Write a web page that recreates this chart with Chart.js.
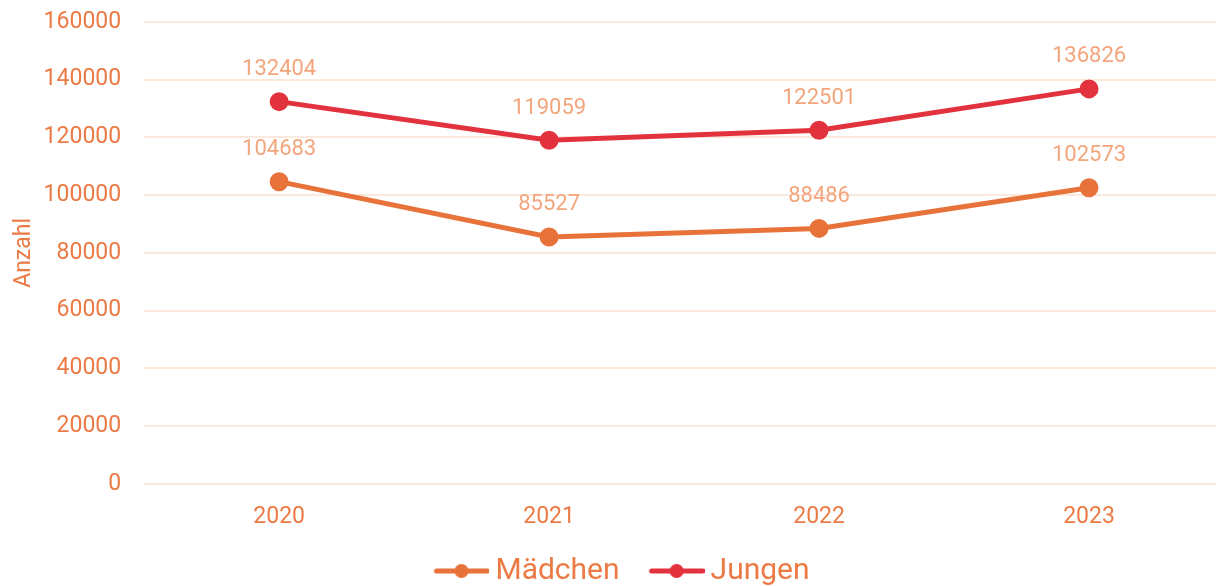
<!DOCTYPE html>
<html>
<head>
<meta charset="utf-8">
<script src="https://cdn.jsdelivr.net/npm/chart.js@4"></script>
<style>
  html, body { margin: 0; padding: 0; background: #fff; overflow: hidden; }
  #wrap { width: 1224px; height: 586px; }
</style>
</head>
<body>
<div id="wrap"><canvas id="lineChart" width="1224" height="586"></canvas></div>
<script>
// Daten
const jahre = ['2020', '2021', '2022', '2023'];
const maedchen = [104683, 85527, 88486, 102573];
const jungen = [132404, 119059, 122501, 136826];

const orange = '#E8733A';
const rot = '#E2323D';
const textFarbe = '#EC7A45';
const labelFarbe = '#F3A57C';
const gitter = '#FCE9DE';

// Legendensymbol: Linie mit Punkt (links etwas Luft als Abstand zwischen den Einträgen)
function legendIcon(color) {
    const c = document.createElement('canvas');
    c.width = 80; c.height = 16;
    const g = c.getContext('2d');
    g.strokeStyle = color;
    g.lineWidth = 5;
    g.lineCap = 'round';
    g.beginPath(); g.moveTo(27, 8); g.lineTo(78, 8); g.stroke();
    g.fillStyle = color;
    g.beginPath(); g.arc(52, 8, 7, 0, Math.PI * 2); g.fill();
    return c;
}

// Werte über den Punkten
const werteLabels = {
    id: 'werteLabels',
    afterDatasetsDraw(chart) {
        const ctx = chart.ctx;
        ctx.save();
        ctx.font = '22px Roboto';
        ctx.fillStyle = labelFarbe;
        ctx.textAlign = 'center';
        ctx.textBaseline = 'middle';
        chart.data.datasets.forEach((ds, i) => {
            chart.getDatasetMeta(i).data.forEach((pt, j) => {
                ctx.fillText(ds.data[j], pt.x, pt.y - 32);
            });
        });
        ctx.restore();
    }
};

const ctx = document.getElementById('lineChart').getContext('2d');
new Chart(ctx, {
    type: 'line',
    data: {
        labels: jahre,
        datasets: [
            {
                label: 'Mädchen',
                data: maedchen,
                borderColor: orange,
                backgroundColor: orange,
                borderWidth: 5,
                pointRadius: 7,
                pointHoverRadius: 7,
                tension: 0
            },
            {
                label: 'Jungen',
                data: jungen,
                borderColor: rot,
                backgroundColor: rot,
                borderWidth: 5,
                pointRadius: 7,
                pointHoverRadius: 7,
                tension: 0
            }
        ]
    },
    options: {
        responsive: false,
        animation: false,
        layout: { autoPadding: false, padding: { top: 22, left: 4, right: 0, bottom: -10 } },
        scales: {
            x: {
                offset: true,
                grid: { display: false },
                border: { display: false },
                ticks: { color: textFarbe, font: { family: 'Roboto', size: 23, lineHeight: 1.4 }, padding: 9 }
            },
            y: {
                min: 0,
                max: 160000,
                grid: { color: gitter, lineWidth: 2, drawTicks: true, tickLength: 23, tickColor: 'rgba(0,0,0,0)' },
                border: { display: false },
                ticks: {
                    stepSize: 20000,
                    color: textFarbe,
                    font: { family: 'Roboto', size: 23, lineHeight: 1.0 },
                    padding: 0,
                    callback: (v) => String(v)
                },
                title: { display: true, text: 'Anzahl', color: textFarbe, font: { family: 'Roboto', size: 23 }, padding: 6 }
            }
        },
        plugins: {
            legend: {
                position: 'bottom',
                labels: {
                    usePointStyle: true,
                    pointStyleWidth: 62,
                    color: textFarbe,
                    font: { family: 'Roboto', size: 30 },
                    padding: 14,
                    generateLabels(chart) {
                        return chart.data.datasets.map((ds, i) => ({
                            text: ds.label,
                            fontColor: textFarbe,
                            pointStyle: legendIcon(ds.borderColor),
                            strokeStyle: ds.borderColor,
                            fillStyle: ds.borderColor,
                            lineWidth: 0,
                            datasetIndex: i
                        }));
                    }
                }
            },
            tooltip: { enabled: false }
        }
    },
    plugins: [werteLabels]
});
</script>
</body>
</html>
